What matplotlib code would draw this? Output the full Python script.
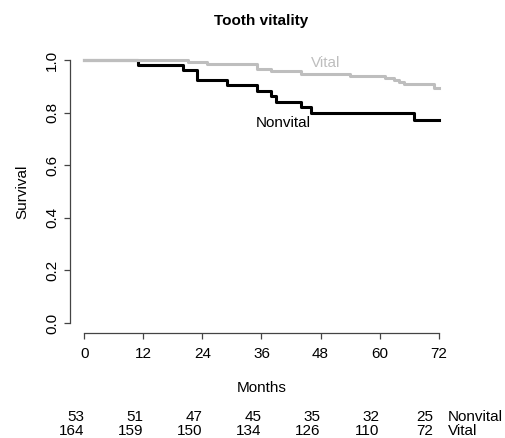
import matplotlib
matplotlib.use('Agg')
import matplotlib.pyplot as plt
import matplotlib.transforms as mtransforms

plt.rcParams.update({
    'font.family': ['Liberation Sans', 'DejaVu Sans'],
    'font.size': 11,
})

# Kaplan-Meier step data
nonvital_months = [0, 11, 20, 23, 29, 35, 38, 39, 44, 46, 67, 72]
nonvital_surv = [1.0, 0.981, 0.962, 0.923, 0.904, 0.884, 0.864, 0.842, 0.822, 0.800, 0.772, 0.772]

vital_months = [0, 21, 25, 35, 38, 44, 54, 61, 63, 64, 65, 71, 72]
vital_surv = [1.0, 0.992, 0.986, 0.965, 0.958, 0.948, 0.941, 0.933, 0.925, 0.917, 0.908, 0.895, 0.895]

# numbers at risk
risk_months = [0, 12, 24, 36, 48, 60, 72]
nonvital_risk = [53, 51, 47, 45, 35, 32, 25]
vital_risk = [164, 159, 150, 134, 126, 110, 72]

black = '#000000'
grey = '#bebebe'

fig = plt.figure(figsize=(5.05, 4.38), dpi=100)
ax = fig.add_axes([0.1386, 0.2386, 0.7584, 0.6484])

ax.step(nonvital_months, nonvital_surv, where='post', color=black, lw=2.2)
ax.step(vital_months, vital_surv, where='post', color=grey, lw=2.2)

ax.text(49, 0.99, 'Vital', color=grey, ha='center', va='center', fontsize=11)
ax.text(40.4, 0.759, 'Nonvital', color=black, ha='center', va='center', fontsize=11)

# R-like axes
ax.set_xlim(-2.88, 74.88)
ax.set_ylim(-0.04, 1.04)
for s in ['top', 'right']:
    ax.spines[s].set_visible(False)
ax.spines['bottom'].set_bounds(0, 72)
ax.spines['left'].set_bounds(0, 1)
for s in ['bottom', 'left']:
    ax.spines[s].set_color('#444444')
    ax.spines[s].set_linewidth(0.9)

ax.set_xticks(risk_months)
ax.set_yticks([0, 0.2, 0.4, 0.6, 0.8, 1.0])
ax.set_yticklabels(['0.0', '0.2', '0.4', '0.6', '0.8', '1.0'], rotation=90, va='center')
ax.tick_params(axis='both', direction='out', length=4.5, width=0.9, color='#444444', labelsize=11)
ax.tick_params(axis='x', pad=5.5)
ax.tick_params(axis='y', pad=3.5)

ax.set_title('Tooth vitality', fontweight='bold', fontsize=11, pad=17.5)
ax.set_ylabel('Survival', fontsize=11, labelpad=11)
ax.set_xlabel('Months', fontsize=11, labelpad=14)

# numbers-at-risk table under the plot
trans = mtransforms.blended_transform_factory(ax.transData, fig.transFigure)
for i, m in enumerate(risk_months):
    xpos = m if m < 72 else m - 1.2
    ax.text(xpos, 0.049, str(nonvital_risk[i]), transform=trans, ha='right', va='center', fontsize=11)
    ax.text(xpos, 0.017, str(vital_risk[i]), transform=trans, ha='right', va='center', fontsize=11)
ax.text(73.8, 0.049, 'Nonvital', transform=trans, ha='left', va='center', fontsize=11)
ax.text(73.8, 0.017, 'Vital', transform=trans, ha='left', va='center', fontsize=11)

fig.savefig('out.png', dpi=100)
